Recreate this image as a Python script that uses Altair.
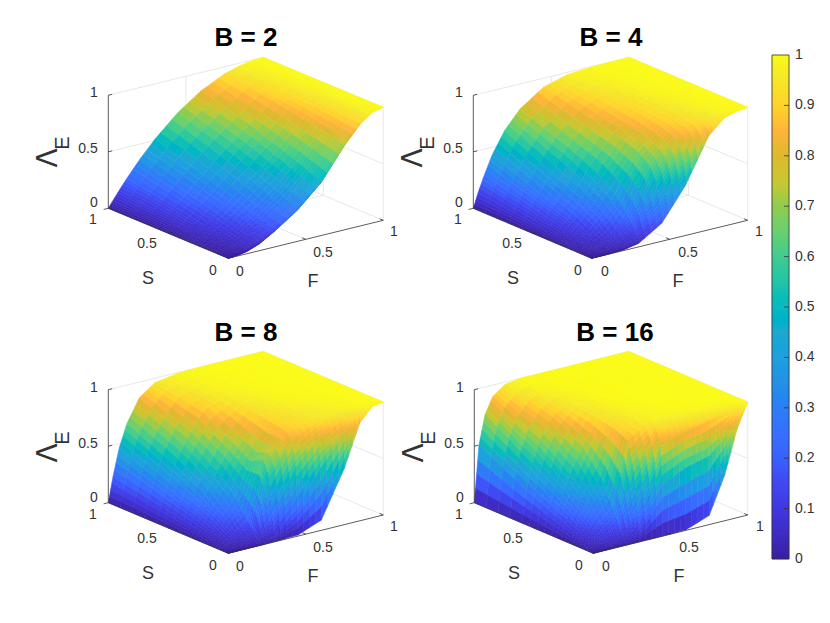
import altair as alt

S_GRID = [1, .6, .35, .2, .1, .05, .02, .005, 0]
F_GRID = [0, .03, .07, .12, .2, .3, .45, .6, .75, .85, .93, 1]

B2 = [
 [0,.059,.135,.226,.36,.51,.698,.84,.938,.978,.995,1],
 [0,.036,.085,.146,.247,.374,.551,.718,.876,.953,.99,1],
 [0,.022,.053,.095,.171,.282,.446,.624,.827,.934,.986,1],
 [0,.014,.034,.063,.124,.222,.378,.562,.794,.92,.984,1],
 [0,.008,.021,.042,.092,.182,.329,.517,.77,.91,.982,1],
 [0,.005,.015,.031,.076,.162,.304,.493,.758,.905,.981,1],
 [0,.003,.011,.024,.065,.149,.289,.479,.75,.902,.981,1],
 [0,.002,.009,.021,.061,.142,.282,.472,.746,.9,.98,1],
 [0,.002,.008,.02,.06,.14,.28,.47,.745,.9,.98,1],
]
B4 = [
 [0,.125,.27,.43,.62,.78,.92,.98,.996,.999,1,1],
 [0,.075,.165,.27,.42,.62,.82,.93,.98,.995,.999,1],
 [0,.045,.10,.165,.30,.50,.76,.90,.97,.99,.998,1],
 [0,.026,.06,.10,.20,.38,.70,.87,.96,.985,.997,1],
 [0,.013,.032,.056,.105,.26,.62,.83,.94,.98,.996,1],
 [0,.007,.018,.032,.065,.16,.50,.77,.92,.975,.995,1],
 [0,.003,.008,.016,.035,.09,.33,.66,.89,.97,.993,1],
 [0,.001,.002,.006,.015,.05,.22,.55,.87,.965,.992,1],
 [0,0,0,.001,.005,.03,.16,.44,.83,.955,.99,1],
]
B8 = [
 [0,.22,.46,.66,.86,.96,.995,1,1,1,1,1],
 [0,.135,.29,.47,.68,.88,.97,.995,1,1,1,1],
 [0,.08,.19,.32,.50,.72,.93,.98,.995,1,1,1],
 [0,.047,.115,.20,.34,.62,.90,.96,.985,.995,1,1],
 [0,.024,.06,.10,.18,.68,.88,.95,.98,.99,.997,1],
 [0,.012,.03,.05,.10,.55,.82,.92,.96,.98,.995,1],
 [0,.005,.012,.02,.04,.22,.60,.80,.90,.96,.993,1],
 [0,.002,.004,.008,.014,.05,.25,.55,.80,.93,.99,1],
 [0,0,0,0,0,.002,.01,.09,.5,.87,.985,1],
]
B16 = [
 [0,.50,.76,.90,.98,1,1,1,1,1,1,1],
 [0,.28,.50,.70,.87,.965,.995,1,1,1,1,1],
 [0,.16,.33,.50,.72,.93,.99,1,1,1,1,1],
 [0,.09,.20,.33,.52,.90,.98,.995,1,1,1,1],
 [0,.047,.11,.19,.30,.85,.97,.99,.995,1,1,1],
 [0,.024,.055,.10,.17,.60,.90,.95,.97,.98,.99,1],
 [0,.01,.025,.045,.08,.30,.78,.86,.90,.93,.96,1],
 [0,.003,.006,.012,.03,.10,.45,.55,.60,.72,.88,1],
 [0,0,0,0,0,0,0,.005,.08,.40,.78,1],
]

TITLES = ["B = 2", "B = 4", "B = 8", "B = 16"]
TABLES = [B2, B4, B8, B16]
# page position of the near floor corner, and the S, F, z axis vectors, per panel
FRAMES = [
 (228.3, 258.3, 120, 50, 155, 38),
 (591.7, 258.3, 118.4, 50, 156, 38),
 (228.3, 553.3, 120, 50.6, 155, 38.3),
 (593.3, 553.3, 119, 50.6, 154.5, 38.3),
]
Z_PX = 113
TEXT_DX = [0, 365, 0, 366]
TEXT_DY = [0, 0, 295, 295]

STOPS = [i / 20 for i in range(21)]
COLORS = ["#3A1FA0","#3E2CC4","#4038E0","#4048F0","#3A60FF","#3870FF","#2F7EF5","#2890E8",
          "#22A0E0","#1FA8D0","#10B9C0","#25C4A8","#40CC90","#68D070","#90CC50","#C8C832",
          "#DDB930","#FFB43A","#FFD22D","#F5E62A","#FAFA14"]
TICKS = [i / 10 for i in range(11)]
TICK_TEXT = ["0", "0.1", "0.2", "0.3", "0.4", "0.5", "0.6", "0.7", "0.8", "0.9", "1"]
SUB = 4
BAR_STEPS = 252


def project(fr, s, f, z):
    ox, oy, sx, sy, fx, fy = fr
    return [round(ox - sx * s + fx * f - 8, 2), round(oy - sy * s - fy * f - Z_PX * z - 8, 2)]


def line(fr, a, b):
    return {"type": "Feature", "properties": {},
            "geometry": {"type": "LineString", "coordinates": [project(fr, *a), project(fr, *b)]}}


def raw_line(x0, y0, x1, y1):
    return {"type": "Feature", "properties": {},
            "geometry": {"type": "LineString", "coordinates": [[x0 - 8, y0 - 8], [x1 - 8, y1 - 8]]}}


surface, grid, axes = [], [], []
for fr, tab in zip(FRAMES, TABLES):
    for v in (0, .5, 1):
        grid.append(line(fr, (1, 0, v), (1, 1, v)))
        grid.append(line(fr, (1, 1, v), (0, 1, v)))
    for v in (.5, 1):
        grid.append(line(fr, (1, v, 0), (1, v, 1)))
    for v in (0, .5):
        grid.append(line(fr, (v, 1, 0), (v, 1, 1)))
    grid.append(line(fr, (.5, 0, 0), (.5, 1, 0)))
    grid.append(line(fr, (1, .5, 0), (0, .5, 0)))
    for i in range(len(S_GRID) - 1):
        for j in range(len(F_GRID) - 2, -1, -1):
            z00, z01 = tab[i][j], tab[i][j + 1]
            z10, z11 = tab[i + 1][j], tab[i + 1][j + 1]
            for a in range(SUB):
                for b in range(SUB - 1, -1, -1):
                    corners, zs = [], []
                    for (u, w) in ((a, b), (a, b + 1), (a + 1, b + 1), (a + 1, b), (a, b)):
                        tu, tw = u / SUB, w / SUB
                        s = S_GRID[i] + (S_GRID[i + 1] - S_GRID[i]) * tu
                        f = F_GRID[j] + (F_GRID[j + 1] - F_GRID[j]) * tw
                        z = (z00 * (1 - tu) * (1 - tw) + z01 * (1 - tu) * tw
                             + z10 * tu * (1 - tw) + z11 * tu * tw)
                        corners.append(project(fr, s, f, z))
                        zs.append(z)
                    surface.append({"type": "Feature",
                                    "properties": {"z": round(sum(zs[:4]) / 4, 4)},
                                    "geometry": {"type": "Polygon", "coordinates": [corners]}})
    axes.append(line(fr, (1, 0, 0), (1, 0, 1)))
    axes.append(line(fr, (1, 0, 0), (0, 0, 0)))
    axes.append(line(fr, (0, 0, 0), (0, 1, 0)))
    axes.append(line(fr, (.5, 0, 0), (.5, .025, 0)))
    axes.append(line(fr, (0, .5, 0), (.03, .5, 0)))
    axes.append(line(fr, (0, 1, 0), (.03, 1, 0)))
    axes.append(line(fr, (1, 0, 0), (1, -.03, 0)))
    axes.append(line(fr, (1, 0, 1), (1, .025, 1)))
    axes.append(line(fr, (1, 0, .5), (1, .025, .5)))

BAR_TOP, BAR_BOTTOM, BAR_LEFT, BAR_RIGHT = 55, 559, 772, 789
BAR_H = BAR_BOTTOM - BAR_TOP
for n in range(BAR_STEPS):
    t0, t1 = n / BAR_STEPS, (n + 1) / BAR_STEPS
    y0, y1 = BAR_BOTTOM - 8 - BAR_H * t0, BAR_BOTTOM - 8 - BAR_H * t1
    l, r = BAR_LEFT - 8, BAR_RIGHT - 8
    surface.append({"type": "Feature", "properties": {"z": (t0 + t1) / 2},
                    "geometry": {"type": "Polygon",
                                 "coordinates": [[[l, y0], [r, y0], [r, y1], [l, y1], [l, y0]]]}})
axes.append(raw_line(BAR_LEFT, BAR_TOP, BAR_RIGHT, BAR_TOP))
axes.append(raw_line(BAR_LEFT, BAR_BOTTOM, BAR_RIGHT, BAR_BOTTOM))
axes.append(raw_line(BAR_LEFT, BAR_TOP, BAR_LEFT, BAR_BOTTOM))
axes.append(raw_line(BAR_RIGHT, BAR_TOP, BAR_RIGHT, BAR_BOTTOM))
for t in TICKS[1:-1]:
    yy = BAR_BOTTOM - BAR_H * t
    axes.append(raw_line(BAR_RIGHT - 5, yy, BAR_RIGHT, yy))

tick_rows, title_rows, letter_rows, lambda_rows, e_rows, bar_rows = [], [], [], [], [], []
BASE_TICKS = [("1", 94, 93), ("0.5", 88, 149), ("0", 94, 203), ("1", 93, 220), ("0.5", 147, 244),
              ("0", 213, 271), ("0", 240, 272), ("0.5", 323, 253), ("1", 394, 232)]
TITLE_X = [246, 611, 246, 615]
for k in range(4):
    dx, dy = TEXT_DX[k], TEXT_DY[k]
    for txt, x, y in BASE_TICKS:
        tick_rows.append({"x": x + dx - 8, "y": y + dy - 8, "t": txt})
    title_rows.append({"x": TITLE_X[k] - 8, "y": 38 + dy - 8, "t": TITLES[k]})
    letter_rows.append({"x": 148 + dx - 8, "y": 279 + dy - 8, "t": "S"})
    letter_rows.append({"x": 313 + dx - 8, "y": 282 + dy - 8, "t": "F"})
    lambda_rows.append({"x": 49 + dx - 8, "y": 158 + dy - 8, "t": "Λ"})
    e_rows.append({"x": 63 + dx - 8, "y": 143 + dy - 8, "t": "E"})
for t, txt in zip(TICKS, TICK_TEXT):
    bar_rows.append({"x": BAR_RIGHT + 6 - 8, "y": BAR_BOTTOM - BAR_H * t - 8, "t": txt})


def text_layer(rows, align="center", **kw):
    return alt.Chart(alt.Data(values=rows)).mark_text(baseline="middle", align=align, **kw).encode(
        x=alt.X("x:Q", scale=None, axis=None),
        y=alt.Y("y:Q", scale=None, axis=None),
        text="t:N",
    )


PROJ = dict(type="identity", scale=1, translate=[0, 0])


def features(items):
    return alt.Data(values={"type": "FeatureCollection", "features": items},
                    format=alt.DataFormat(property="features"))


Z_SCALE = alt.Scale(domain=STOPS, range=COLORS)
grid_layer = alt.Chart(features(grid)).mark_geoshape(
    filled=False, stroke="#e2e2e2", strokeWidth=0.8).project(**PROJ)
surface_layer = alt.Chart(features(surface)).mark_geoshape(strokeWidth=0.5).encode(
    fill=alt.Color("properties.z:Q", scale=Z_SCALE, legend=None),
    stroke=alt.Color("properties.z:Q", scale=Z_SCALE, legend=None),
).project(**PROJ)
axes_layer = alt.Chart(features(axes)).mark_geoshape(
    filled=False, stroke="#333333", strokeWidth=0.8).project(**PROJ)

chart = alt.layer(
    grid_layer, surface_layer, axes_layer,
    text_layer(tick_rows, font="Liberation Sans", fontSize=14, color="#333333"),
    text_layer(bar_rows, align="left", font="Liberation Sans", fontSize=14, color="#333333"),
    text_layer(title_rows, font="Liberation Sans", fontSize=26, fontWeight="bold", color="#000000"),
    text_layer(letter_rows, font="Liberation Sans", fontSize=18, color="#333333"),
    text_layer(lambda_rows, font="DejaVu Sans", fontSize=28, color="#333333", angle=270),
    text_layer(e_rows, font="Liberation Sans", fontSize=20, color="#333333", angle=270),
).properties(
    width=814, height=607, padding=0, autosize=alt.AutoSizeParams(type="none"),
).configure_view(stroke=None)

chart.save("out.html", embed_options={"renderer": "svg", "actions": False})
